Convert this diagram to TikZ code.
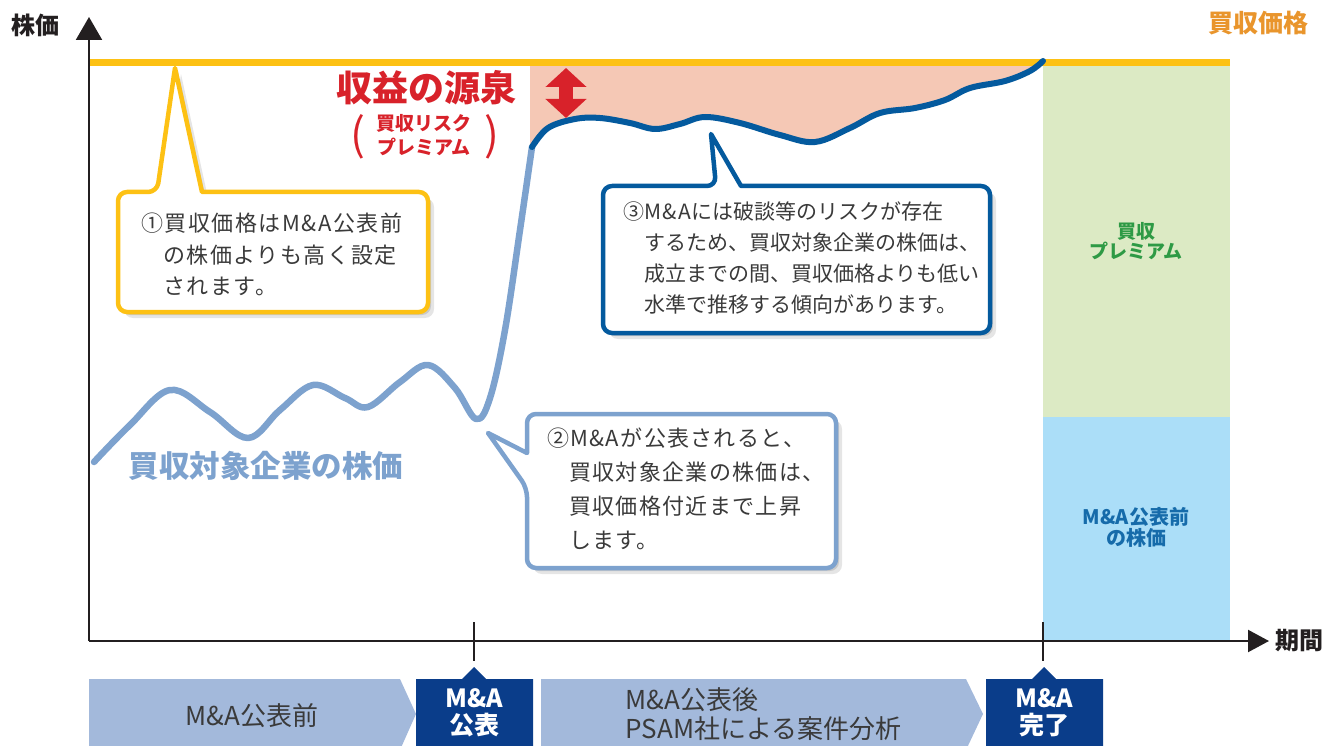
\documentclass[tikz,border=0pt]{standalone}
\usepackage{fontspec}
\setmainfont{Noto Sans CJK JP}
\usetikzlibrary{shadows,arrows.meta}
\definecolor{ygold}{HTML}{FDC114}
\definecolor{orangelbl}{HTML}{E9952C}
\definecolor{lblue}{HTML}{7DA2CE}
\definecolor{dblue}{HTML}{045A9E}
\definecolor{pinkfill}{HTML}{F5C8B5}
\definecolor{greenfill}{HTML}{DCEAC4}
\definecolor{bluefill}{HTML}{ABDEF8}
\definecolor{greentext}{HTML}{2E9A45}
\definecolor{bluetext}{HTML}{166BAA}
\definecolor{redtext}{HTML}{D8222A}
\definecolor{bandfill}{HTML}{A3B9DB}
\definecolor{navy}{HTML}{0A3D8A}
\definecolor{txt}{HTML}{3A3A3A}
\definecolor{axis}{HTML}{231F20}
\tikzset{
  fsz/.style={font=\fontsize{#1}{\dimexpr#1pt*12/10\relax}\selectfont},
  bfsz/.style={font=\bfseries\fontsize{#1}{\dimexpr#1pt*12/10\relax}\selectfont},
  softshadow/.style={drop shadow={opacity=.10, shadow xshift=6pt, shadow yshift=-6pt, fill=black},
                     drop shadow={opacity=.12, shadow xshift=3pt, shadow yshift=-3pt, fill=black}},
  calloutbox/.style={draw=#1, line width=4.5pt, fill=white, line join=round, softshadow},
  callouttext/.style={text=txt, align=left, anchor=north west, inner sep=0pt},
  band/.style={fill=bandfill},
  navybox/.style={fill=navy},
  navytext/.style={text=white, align=center, font=\bfseries\fontsize{25}{27}\selectfont},
  bandtext/.style={text=txt, font=\fontsize{26}{29}\selectfont},
  axisline/.style={draw=axis, line width=2.2pt},
}
\begin{document}
\begin{tikzpicture}[x=1pt,y=-1pt]
\useasboundingbox (0,0) rectangle (1341,746);
% right bars
\fill[greenfill] (1043,66) rectangle (1230,417);
\fill[bluefill] (1043,417) rectangle (1230,640);
% pink area
\fill[pinkfill] (530,66) -- (530,147) -- plot[smooth, tension=0.6] coordinates {(532,147) (548,128) (575,119) (600,118) (630,123) (655,129) (680,124) (705,117) (740,123) (780,135) (815,142) (850,128) (880,113) (915,108) (945,100) (970,88) (1005,81) (1030,71) (1043,61)} -- (1043,66) -- cycle;
% purchase price line
\draw[ygold, line width=7pt] (89,63) -- (1230,63);
% curves
\draw[lblue, line width=6.5pt, line cap=round, line join=round] plot[smooth, tension=0.6] coordinates {(94,462) (130,425) (170,390) (210,412) (248,438) (280,410) (313,385) (345,398) (368,407) (400,382) (428,365) (455,388) (476,419) (490,398) (505,330) (520,230) (532,147)};
\draw[dblue, line width=6pt, line cap=round, line join=round] plot[smooth, tension=0.6] coordinates {(532,147) (548,128) (575,119) (600,118) (630,123) (655,129) (680,124) (705,117) (740,123) (780,135) (815,142) (850,128) (880,113) (915,108) (945,100) (970,88) (1005,81) (1030,71) (1043,61)};
% axes
\coordinate (origin) at (89,641);
\coordinate (ytop) at (89,17);
\coordinate (xend) at (1269,641);
\draw[axisline, -{Triangle[length=23pt, width=26pt]}] (origin) -- (ytop);
\draw[axisline, -{Triangle[length=21pt, width=22pt]}] (origin) -- (xend);
\node[bfsz=24, text=axis] (ylabel) at (35,25) {株価};
\node[bfsz=24, text=axis] (xlabel) at (1299,641) {期間};
% ticks
\coordinate (t1a) at (474,622); \coordinate (t1b) at (474,661);
\coordinate (t2a) at (1043,622); \coordinate (t2b) at (1043,661);
\draw[axis, line width=1.6pt] (t1a) -- (t1b);
\draw[axis, line width=1.6pt] (t2a) -- (t2b);
% labels on right
\node[bfsz=25, text=orangelbl] (pricelbl) at (1258,23) {買収価格};
\node[bfsz=19, text=greentext, align=center] (premlbl) at (1136,241) {買収\\[-2pt]プレミアム};
\node[bfsz=20, text=bluetext, align=center] (prelbl) at (1136,527) {M\&A公表前\\[-3pt]の株価};
% target label
\node[bfsz=30.5, text=lblue] (targetlbl) at (266,466) {買収対象企業の株価};
% red source label
\node[bfsz=36, text=redtext] (srclbl) at (426,88) {収益の源泉};
\node[bfsz=19, text=redtext, align=center] (srcsub) at (424,135) {買収リスク\\[2pt]プレミアム};
\node[fsz=44, text=redtext] (lpar) at (358,137) {(};
\node[fsz=44, text=redtext] (rpar) at (492,137) {)};
\coordinate (ra) at (566,68); \coordinate (rb) at (566,118);
\draw[redtext, line width=14pt, {Triangle[length=19pt, width=40pt]}-{Triangle[length=19pt, width=40pt]}] (ra) -- (rb);
% callout 1
\draw[calloutbox=ygold] (300,312) [rounded corners=9pt] -- (118,312) -- (118,192) -- (157,192) [sharp corners] -- (175,68) -- (202,192) [rounded corners=9pt] -- (428,192) -- (428,312) -- cycle;
\node[callouttext, font=\fontsize{22}{26.4}\selectfont\addfontfeature{LetterSpace=7}] (c1) at (141,213) {①買収価格はM\&A公表前\\[5pt]\phantom{①}の株価よりも高く設定\\[5pt]\phantom{①}されます。};
% callout 3
\draw[calloutbox=dblue] (800,333) [rounded corners=9pt] -- (603,333) -- (603,186) -- (716,186) [sharp corners] -- (711,134) -- (741,186) [rounded corners=9pt] -- (990,186) -- (990,333) -- cycle;
\node[callouttext, fsz=21] (c3) at (623,202) {③{\addfontfeature{LetterSpace=8}M\&A}には破談等のリスクが存在\\[5.5pt]\phantom{③}するため、買収対象企業の株価は、\\[5.5pt]\phantom{③}成立までの間、買収価格よりも低い\\[5.5pt]\phantom{③}水準で推移する傾向があります。};
% callout 2
\draw[calloutbox=lblue] (700,568) [rounded corners=9pt] -- (527,568) -- (527,488) [sharp corners] -- (488,433) -- (527,453) [rounded corners=9pt] -- (527,414) -- (836,414) -- (836,568) -- cycle;
\node[callouttext, font=\fontsize{22}{26.4}\selectfont\addfontfeature{LetterSpace=6}] (c2) at (547,428) {②M\&Aが公表されると、\\[7.6pt]\phantom{②}買収対象企業の株価は、\\[7.6pt]\phantom{②}買収価格付近まで上昇\\[7.6pt]\phantom{②}します。};
% timeline
\fill[band] (89,679) -- (400,679) -- (416,714) -- (400,750) -- (89,750) -- cycle;
\fill[band] (541,679) -- (966,679) -- (983,714) -- (966,750) -- (541,750) -- cycle;
\fill[navybox] (416,679) -- (462,679) -- (474,667) -- (486,679) -- (533,679) -- (533,750) -- (416,750) -- cycle;
\fill[navybox] (986,679) -- (1032,679) -- (1044,667) -- (1056,679) -- (1103,679) -- (1103,750) -- (986,750) -- cycle;
\node[bandtext] (b1) at (252,716) {M\&A公表前};
\node[bandtext, align=left, anchor=west] (b2) at (622,714) {M\&A公表後\\PSAM社による案件分析};
\node[navytext] (n1) at (474,713) {M\&A\\公表};
\node[navytext] (n2) at (1044,713) {M\&A\\完了};
\end{tikzpicture}
\end{document}
